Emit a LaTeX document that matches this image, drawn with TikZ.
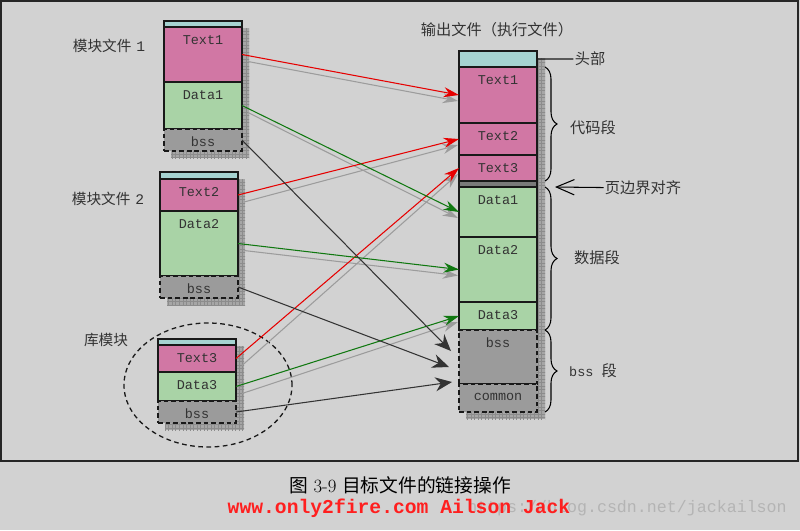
\documentclass[tikz,border=0pt]{standalone}
\usepackage{fontspec}
\setmonofont{Liberation Mono}
\newfontfamily\cjk{Noto Sans CJK SC}
\usetikzlibrary{arrows.meta,decorations.pathreplacing,patterns}

\definecolor{bgcol}{HTML}{D2D2D2}
\definecolor{headcyan}{HTML}{A6D3D1}
\definecolor{textpink}{HTML}{D177A4}
\definecolor{datagreen}{HTML}{A9D3A6}
\definecolor{bssgray}{HTML}{9B9B9B}
\definecolor{padgray}{HTML}{7A7A7A}
\definecolor{shadowgray}{HTML}{A6A6A6}
\definecolor{shadowline}{HTML}{8C8C8C}
\definecolor{linkred}{HTML}{E60000}
\definecolor{linkgreen}{HTML}{107810}
\definecolor{linkdark}{HTML}{333333}
\definecolor{ghostgray}{HTML}{9C9C9C}
\definecolor{siteread}{HTML}{FF1F1F}
\definecolor{markgray}{HTML}{B4B4B4}

\tikzset{
  seg/.style={draw=black!90, line width=1pt, inner sep=0pt, outer sep=0pt,
    minimum width=23.4mm, anchor=north west},
  headseg/.style={seg, fill=headcyan},
  textseg/.style={seg, fill=textpink},
  dataseg/.style={seg, fill=datagreen},
  bssseg/.style={seg, fill=bssgray, dash pattern=on 4pt off 2.5pt},
  segname/.style={label={[anchor=center, yshift=-3.9mm, text=black!80,
    font=\ttfamily\fontsize{11.5}{13}\selectfont]north:#1}},
  boxshadow/.style={fill=shadowgray, postaction={pattern=grid, pattern color=shadowline}},
  annot/.style={text=black!80, font=\fontsize{12.5}{15}\selectfont, inner sep=1pt},
  sideannot/.style={annot, font=\fontsize{13}{15}\selectfont},
  redlink/.style={linkred, line width=0.9pt, -{Stealth[length=4.6mm,width=3mm]}},
  greenlink/.style={linkgreen, line width=0.9pt, -{Stealth[length=4.6mm,width=3mm]}},
  ghostlink/.style={ghostgray, line width=0.9pt, -{Stealth[length=4.6mm,width=3mm]}},
  bsslink/.style={linkdark, line width=0.9pt, -{Stealth[length=5mm,width=4.2mm]}},
  segbrace/.style={draw=black, line width=0.9pt,
    decorate, decoration={brace, amplitude=3.6mm, raise=2.4mm}},
}

\begin{document}
\begin{tikzpicture}[x=0.3mm,y=-0.3mm]
\fill[bgcol] (0,0) rectangle (800,530);
\useasboundingbox (0,0) rectangle (800,530);
\draw[line width=2pt, black!85] (1,1) rectangle (798,461);

% shadows
\fill[boxshadow] (171,28) rectangle (249,158);
\fill[boxshadow] (167,179) rectangle (245,305);
\fill[boxshadow] (165,346) rectangle (244,430);
\fill[boxshadow] (466,58) rectangle (545,419);

% module file 1
\node[headseg, minimum height=1.8mm] (m1head) at (164,21) {};
\node[textseg, minimum height=16.5mm, segname=Text1] (m1text) at (m1head.south west) {};
\node[dataseg, minimum height=14.1mm, segname=Data1] (m1data) at (m1text.south west) {};
\node[bssseg, minimum height=6.6mm, segname=bss] (m1bss) at (m1data.south west) {};
\node[annot] (m1name) at (109,46) {{\cjk 模块文件} {\ttfamily 1}};

% module file 2
\node[headseg, minimum height=2.1mm] (m2head) at (160,172) {};
\node[textseg, minimum height=9.6mm, segname=Text2] (m2text) at (m2head.south west) {};
\node[dataseg, minimum height=19.5mm, segname=Data2] (m2data) at (m2text.south west) {};
\node[bssseg, minimum height=6.6mm, segname=bss] (m2bss) at (m2data.south west) {};
\node[annot] (m2name) at (108,199) {{\cjk 模块文件} {\ttfamily 2}};

% library module
\draw[black!90, line width=1.1pt, dash pattern=on 4pt off 3pt] (208,385) ellipse [x radius=25.2mm, y radius=18.6mm];
\node[headseg, minimum height=1.8mm] (lhead) at (158,339) {};
\node[textseg, minimum height=8.1mm, segname=Text3] (ltext) at (lhead.south west) {};
\node[dataseg, minimum height=8.7mm, segname=Data3] (ldata) at (ltext.south west) {};
\node[bssseg, minimum height=6.6mm, segname=bss] (lbss) at (ldata.south west) {};
\node[annot] (lname) at (106,340) {\cjk 库模块};

% output file
\node[sideannot] (oname) at (497,30) {\cjk 输出文件（执行文件）};
\node[headseg, minimum height=4.8mm] (ohead) at (459,51) {};
\node[textseg, minimum height=16.8mm, segname=Text1] (otext1) at (ohead.south west) {};
\node[textseg, minimum height=9.6mm, segname=Text2] (otext2) at (otext1.south west) {};
\node[textseg, minimum height=7.8mm, segname=Text3] (otext3) at (otext2.south west) {};
\node[seg, fill=padgray, minimum height=1.8mm] (opad) at (otext3.south west) {};
\node[dataseg, minimum height=15mm, segname=Data1] (odata1) at (opad.south west) {};
\node[dataseg, minimum height=19.5mm, segname=Data2] (odata2) at (odata1.south west) {};
\node[dataseg, minimum height=8.4mm, segname=Data3] (odata3) at (odata2.south west) {};
\node[bssseg, minimum height=16.2mm, segname=bss] (obss) at (odata3.south west) {};
\node[bssseg, minimum height=8.4mm, segname=common] (ocommon) at (obss.south west) {};

% labels on the right
\node[sideannot] (headname) at (590,59) {\cjk 头部};
\draw[black!90, line width=0.9pt] (ohead.east) -- (headname);
\draw[segbrace] (otext1.north east) -- (otext3.south east);
\node[sideannot] (codename) at (593,128) {\cjk 代码段};
\draw[segbrace] (odata1.north east) -- (odata3.south east);
\node[sideannot] (dataname) at (597,258) {\cjk 数据段};
\draw[segbrace] (obss.north east) -- (ocommon.south east);
\node[annot] (bssname) at (593,371) {\ttfamily\fontsize{11.5}{14}\selectfont bss {\cjk\fontsize{13}{15}\selectfont 段}};
\node[sideannot] (alignname) at (643,188) {\cjk 页边界对齐};
\coordinate (aligntip) at (555,187);
\draw[black, line width=0.9pt, -{Straight Barb[length=5.4mm,width=4.6mm]}] (alignname) -- (aligntip);

% links
\draw[ghostlink] ([shift={(6,7)}]m1text.east) -- ([shift={(-1,6)}]otext1.west);
\draw[ghostlink] ([shift={(6,7)}]m2text.east) -- ([shift={(-1,6)}]otext2.west);
\draw[ghostlink] ([shift={(6,7)}]ltext.east) -- ([shift={(-1,6)}]otext3.west);
\draw[ghostlink] ([shift={(6,7)}]m1data.east) -- ([shift={(-1,6)}]odata1.west);
\draw[ghostlink] ([shift={(6,7)}]m2data.east) -- ([shift={(-1,6)}]odata2.west);
\draw[ghostlink] ([shift={(6,7)}]ldata.east) -- ([shift={(-1,6)}]odata3.west);

\draw[redlink] (m1text.east) -- (otext1.west);
\draw[redlink] (m2text.east) -- (otext2.west);
\draw[redlink] (ltext.east) -- (otext3.west);
\draw[greenlink] (m1data.east) -- (odata1.west);
\draw[greenlink] (m2data.east) -- (odata2.west);
\draw[greenlink] (ldata.east) -- (odata3.west);

\coordinate (bssin1) at (451,351);
\coordinate (bssin2) at (449,367);
\coordinate (bssin3) at (452,382);
\draw[bsslink] (m1bss.east) -- (bssin1);
\draw[bsslink] (m2bss.east) -- (bssin2);
\draw[bsslink] (lbss.east) -- (bssin3);

% caption
\node[font=\fontsize{16}{19}\selectfont] (figcap) at (400,485) {{\cjk 图} 3-9 {\cjk 目标文件的链接操作}};
\node[text=markgray, font=\ttfamily\fontsize{14.2}{16}\selectfont] (watermark) at (627,508) {https://blog.csdn.net/jackailson};
\node[text=siteread, font=\ttfamily\bfseries\fontsize{16.8}{19}\selectfont] (siteline) at (399,508) {www.only2fire.com Ailson Jack};
\end{tikzpicture}
\end{document}
